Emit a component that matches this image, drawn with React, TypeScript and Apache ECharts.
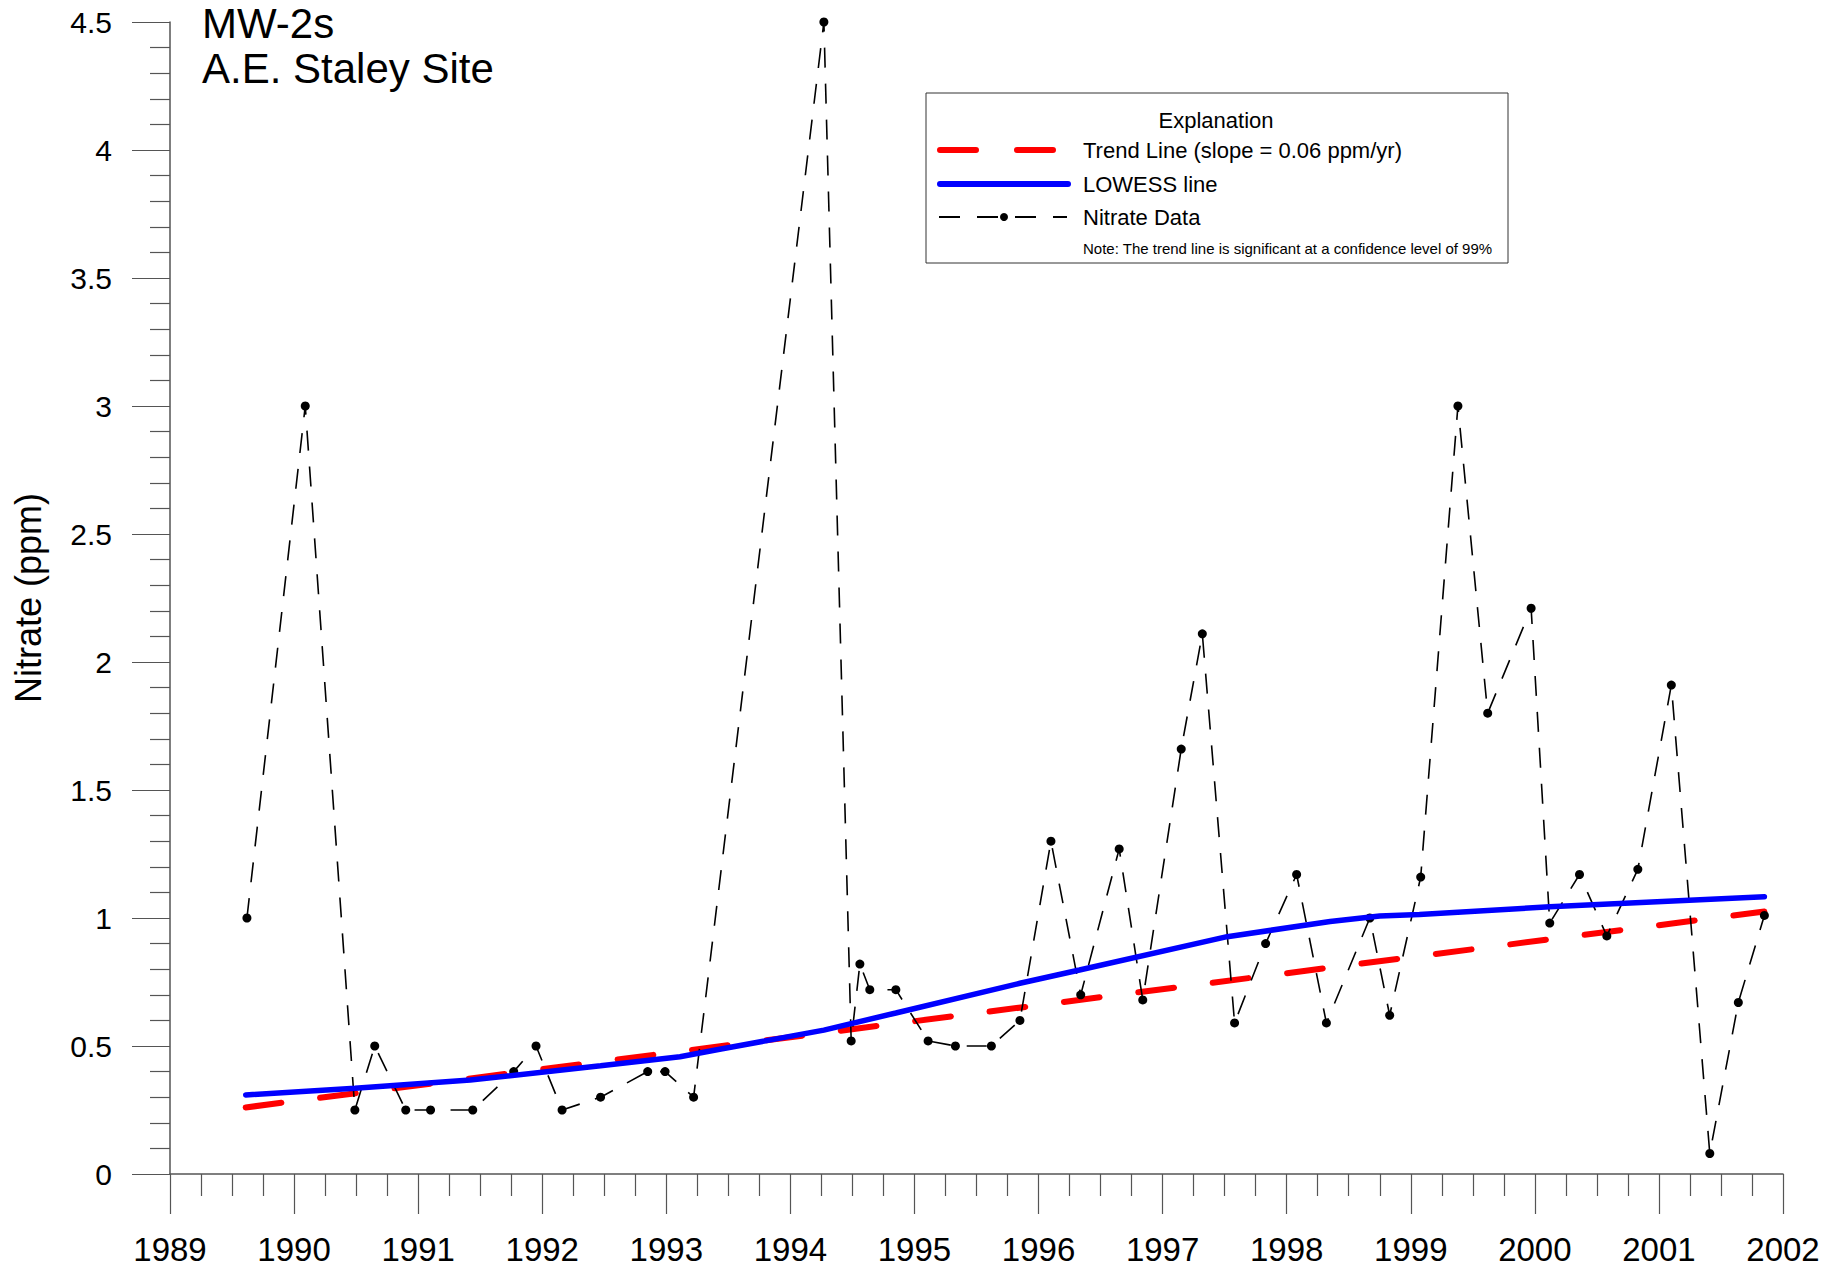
import React, { useEffect, useRef } from "react";
import * as echarts from "echarts";

// Nitrate data (decimal year, ppm)
const nitrateYears = [
  1989.62, 1990.09, 1990.49, 1990.65, 1990.9, 1991.1, 1991.44, 1991.77, 1991.95, 1992.16,
  1992.47, 1992.85, 1992.99, 1993.22, 1994.27, 1994.49, 1994.56, 1994.64, 1994.85, 1995.11,
  1995.33, 1995.62, 1995.85, 1996.1, 1996.34, 1996.65, 1996.84, 1997.15, 1997.32, 1997.58,
  1997.83, 1998.08, 1998.32, 1998.67, 1998.83, 1999.08, 1999.38, 1999.62, 1999.97, 2000.12,
  2000.36, 2000.58, 2000.83, 2001.1, 2001.41, 2001.64, 2001.85,
];
const nitrateValues = [
  1.0, 3.0, 0.25, 0.5, 0.25, 0.25, 0.25, 0.4, 0.5, 0.25,
  0.3, 0.4, 0.4, 0.3, 4.5, 0.52, 0.82, 0.72, 0.72, 0.52,
  0.5, 0.5, 0.6, 1.3, 0.7, 1.27, 0.68, 1.66, 2.11, 0.59,
  0.9, 1.17, 0.59, 1.0, 0.62, 1.16, 3.0, 1.8, 2.21, 0.98,
  1.17, 0.93, 1.19, 1.91, 0.08, 0.67, 1.01,
];

// Trend line endpoints (slope = 0.06 ppm/yr)
const trendYears = [1989.61, 2001.85];
const trendValues = [0.26, 1.025];

// LOWESS line
const lowessYears = [
  1989.61, 1990.49, 1991.42, 1992.47, 1993.11, 1993.43, 1994.27, 1994.85,
  1995.85, 1996.33, 1997.52, 1998.35, 1998.75, 1999.07, 2000.12, 2001.85,
];
const lowessValues = [
  0.309, 0.335, 0.367, 0.423, 0.458, 0.487, 0.562, 0.629,
  0.745, 0.797, 0.927, 0.986, 1.008, 1.014, 1.044, 1.083,
];

const titleLines = ["MW-2s", "A.E. Staley Site"];
const legendTitle = "Explanation";
const legendLabels = ["Trend Line (slope = 0.06 ppm/yr)", "LOWESS line", "Nitrate Data"];
const legendNote = "Note: The trend line is significant at a confidence level of 99%";
const yAxisName = "Nitrate (ppm)";

const zip = (xs: number[], ys: number[]) => xs.map((x, i) => [x, ys[i]]);

export default function App() {
  const ref = useRef<HTMLDivElement>(null);
  useEffect(() => {
    if (!ref.current) return;
    const chart = echarts.init(ref.current, null, { renderer: "svg" });
    const font = "'Liberation Sans', Arial, sans-serif";
    const narrow = "'Liberation Sans Narrow', 'Arial Narrow', 'Liberation Sans', sans-serif";
    const axisColor = "#555";
    const option: any = {
      animation: false,
      backgroundColor: "#ffffff",
      textStyle: { fontFamily: font },
      title: {
        text: titleLines.join("\n"),
        left: 202,
        top: 1,
        padding: 0,
        textStyle: { fontSize: 42, fontWeight: "normal", color: "#000", lineHeight: 45, fontFamily: font },
      },
      grid: { left: 170, right: 56, top: 22, bottom: 99, containLabel: false },
      xAxis: {
        type: "value",
        min: 1989,
        max: 2002,
        interval: 1,
        axisLine: { onZero: false, lineStyle: { color: axisColor, width: 1.5 } },
        axisTick: { length: 40, lineStyle: { color: axisColor, width: 1.2 } },
        minorTick: { show: true, splitNumber: 4, length: 22, lineStyle: { color: axisColor, width: 1.2 } },
        splitLine: { show: false },
        axisLabel: {
          margin: 59,
          fontSize: 33,
          color: "#000",
          fontFamily: narrow,
          showMinLabel: true,
          showMaxLabel: true,
          formatter: (v: number) => String(v),
        },
      },
      yAxis: {
        type: "value",
        min: 0,
        max: 4.5,
        interval: 0.5,
        name: yAxisName,
        nameLocation: "middle",
        nameGap: 124,
        nameTextStyle: { fontSize: 36, color: "#000", fontFamily: font },
        axisLine: { show: true, onZero: false, lineStyle: { color: axisColor, width: 1.5 } },
        axisTick: { show: true, length: 38, lineStyle: { color: axisColor, width: 1.2 } },
        minorTick: { show: true, splitNumber: 5, length: 20, lineStyle: { color: axisColor, width: 1.2 } },
        splitLine: { show: false },
        axisLabel: { margin: 58, fontSize: 30, color: "#000", fontFamily: font, showMinLabel: true, showMaxLabel: true },
      },
      series: [
        {
          name: legendLabels[0],
          type: "line",
          data: zip(trendYears, trendValues),
          symbol: "none",
          lineStyle: { color: "#ff0000", width: 6, type: [36, 39], cap: "round" },
          z: 2,
        },
        {
          name: legendLabels[2],
          type: "line",
          data: zip(nitrateYears, nitrateValues),
          symbol: "circle",
          symbolSize: 9,
          itemStyle: { color: "#000" },
          lineStyle: { color: "#000", width: 1.6, type: [20, 16] },
          z: 3,
        },
        {
          name: legendLabels[1],
          type: "line",
          data: zip(lowessYears, lowessValues),
          symbol: "none",
          lineStyle: { color: "#0000ff", width: 5.5, cap: "round" },
          z: 4,
        },
      ],
      graphic: [
        {
          type: "rect",
          z: 10,
          shape: { x: 926, y: 93, width: 582, height: 170 },
          style: { fill: "#fff", stroke: "#333", lineWidth: 1 },
        },
        {
          type: "text",
          z: 11,
          x: 1216,
          y: 120,
          style: { text: legendTitle, fontSize: 22, fill: "#000", align: "center", verticalAlign: "middle", fontFamily: font },
        },
        {
          type: "line",
          z: 11,
          shape: { x1: 940, y1: 150, x2: 1053, y2: 150 },
          style: { stroke: "#ff0000", lineWidth: 6, lineDash: [36, 41], lineCap: "round" },
        },
        {
          type: "line",
          z: 11,
          shape: { x1: 940, y1: 184, x2: 1068, y2: 184 },
          style: { stroke: "#0000ff", lineWidth: 6, lineCap: "round" },
        },
        {
          type: "line",
          z: 11,
          shape: { x1: 939, y1: 217, x2: 1067, y2: 217 },
          style: { stroke: "#000", lineWidth: 1.8, lineDash: [21, 17] },
        },
        {
          type: "circle",
          z: 12,
          shape: { cx: 1004, cy: 217, r: 4 },
          style: { fill: "#000" },
        },
        ...legendLabels.map((t, i) => ({
          type: "text",
          z: 11,
          x: 1083,
          y: [150, 184, 217][i],
          style: { text: t, fontSize: 22, fill: "#000", align: "left", verticalAlign: "middle", fontFamily: font },
        })),
        {
          type: "text",
          z: 11,
          x: 1083,
          y: 248,
          style: { text: legendNote, fontSize: 15, fill: "#000", align: "left", verticalAlign: "middle", fontFamily: font },
        },
      ],
    };
    chart.setOption(option);
    return () => chart.dispose();
  }, []);
  return (
    <div
      ref={ref}
      style={{ position: "fixed", left: 0, top: 0, width: 1839, height: 1273, background: "#fff" }}
    />
  );
}
